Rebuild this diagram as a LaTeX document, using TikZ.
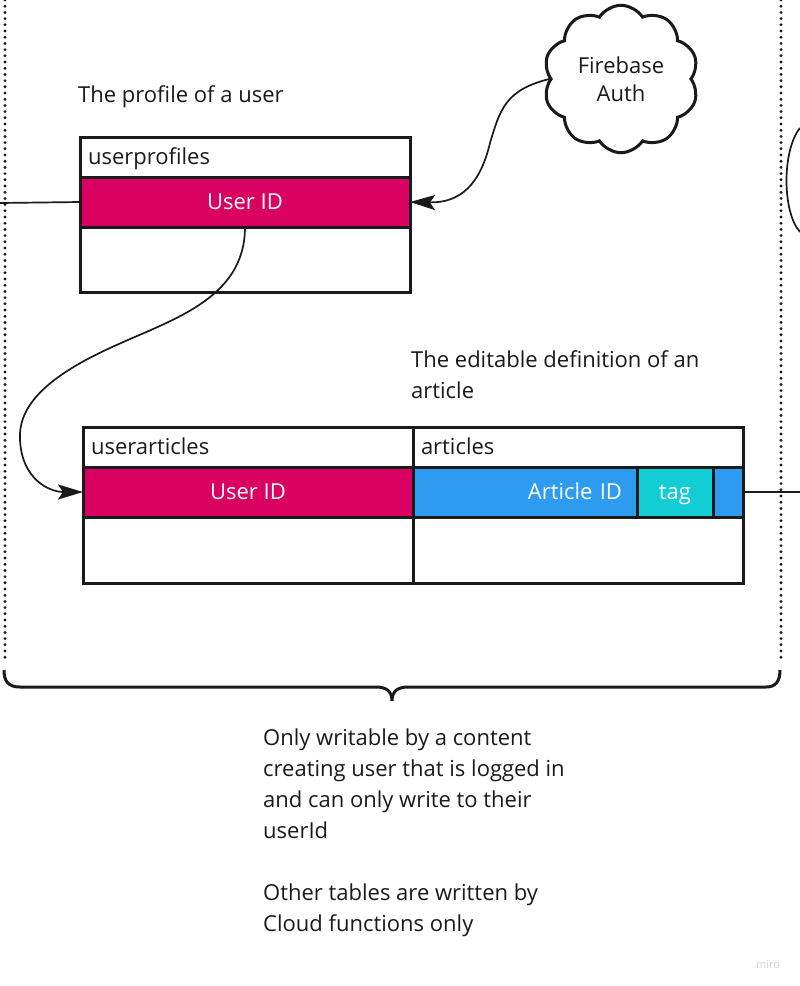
\documentclass[tikz,border=0pt]{standalone}
\usepackage{fontspec}
\setmainfont{Open Sans}
\usetikzlibrary{arrows.meta,positioning,shapes.symbols}
\definecolor{ink}{RGB}{26,26,26}
\definecolor{mirored}{RGB}{217,1,98}
\definecolor{miroblue}{RGB}{45,155,240}
\definecolor{miroteal}{RGB}{18,205,212}
\tikzset{cell/.style={rectangle, draw=ink, line width=3pt, inner sep=0pt, outer sep=0pt, minimum width=330pt, text=ink, text height=18pt, text depth=3pt, font=\fontsize{22}{26}\selectfont},
  head/.style={cell, minimum height=40pt, text width=314pt, align=left},
  keycell/.style={cell, minimum height=50pt, fill=mirored, text=white},
  idcell/.style={cell, minimum height=50pt, fill=miroblue, text=white},
  tagcell/.style={cell, minimum height=50pt, minimum width=76pt, fill=miroteal, text=white},
  bodycell/.style={cell, minimum height=65pt},
  note/.style={text=ink, inner sep=0pt, font=\fontsize{22}{31}\selectfont},
  link/.style={draw=ink, line width=1.7pt},
  tip/.style={-{Stealth[length=25pt, width=15pt, inset=5pt]}},
  dots/.style={draw=ink, line width=3.2pt, line cap=round, dash pattern=on 0pt off 6.2pt},
  x=1pt, y=-1pt}

\begin{document}
\begin{tikzpicture}
    \useasboundingbox (0,0) rectangle (800,986);
    % scope borders
    \draw[dots] (5,0) -- (5,662);
    \draw[dots] (781,0) -- (781,662);
    \draw[draw=ink, line width=3pt] (4,670) .. controls (4,681) and (8,687) .. (20,687) -- (376,687)
        .. controls (386,687) and (392,691) .. (392,701) .. controls (392,691) and (398,687) .. (408,687)
        -- (766,687) .. controls (776,687) and (780,681) .. (780,670);
    \draw[link] (800,128) .. controls (782,150) and (782,212) .. (800,232);
    % labels
    \node[note, anchor=west] (profile-note) at (78,97) {The profile of a user};
    \node[note, anchor=north west, align=left] (article-note) at (411,350) {The editable definition of an\\article};
    \node[note, anchor=north west, align=left] (rule-note) at (263,729) {Only writable by a content\\creating user that is logged in\\and can only write to their\\userId\\[31pt]Other tables are written by\\Cloud functions only};
    \node[text=gray!35, inner sep=0pt, font=\fontsize{11}{13}\selectfont] (brand) at (768,965) {miro};
    % firebase
    \node[cloud, draw=ink, line width=3pt, cloud puffs=10, cloud puff arc=115, minimum width=155pt, minimum height=126pt, align=center, text=ink, font=\fontsize{22}{28}\selectfont] (auth) at (621,79) {Firebase\\Auth};
    % userprofiles
    \node[head, anchor=north west] (up-head) at (80,137) {userprofiles};
    \node[keycell, below=0pt of up-head] (up-id) {User ID};
    \node[bodycell, below=0pt of up-id] (up-body) {};
    % userarticles + articles
    \node[head, anchor=north west] (ua-head) at (83,427) {userarticles};
    \node[head, right=0pt of ua-head] (ar-head) {articles};
    \node[keycell, below=0pt of ua-head] (ua-id) {User ID};
    \node[bodycell, minimum height=66pt, below=0pt of ua-id] (ua-body) {};
    \node[idcell, minimum width=224pt, text width=194pt, align=right, anchor=north west] (ar-id) at (ar-head.south west) {Article ID};
    \node[tagcell, right=0pt of ar-id] (ar-tag) {tag};
    \node[idcell, minimum width=30pt, right=0pt of ar-tag] (ar-end) {};
    \node[bodycell, minimum height=66pt, right=0pt of ua-body] (ar-body) {};
    % connectors
    \coordinate (left-stub) at (0,203);
    \coordinate (right-stub) at (800,492);
    \draw[link] (left-stub) -- (up-id.west);
    \draw[link] (ar-end.east) -- (right-stub);
    \draw[link, tip] (auth.west) .. controls (505,90) and (500,110) .. (490,143) .. controls (480,185) and (460,203) .. (up-id.east);
    \draw[link, tip] (up-id.south) .. controls (245,300) and (170,320) .. (110,348) .. controls (40,380) and (18,410) .. (20,440) .. controls (22,480) and (50,492) .. (ua-id.west);
\end{tikzpicture}
\end{document}
